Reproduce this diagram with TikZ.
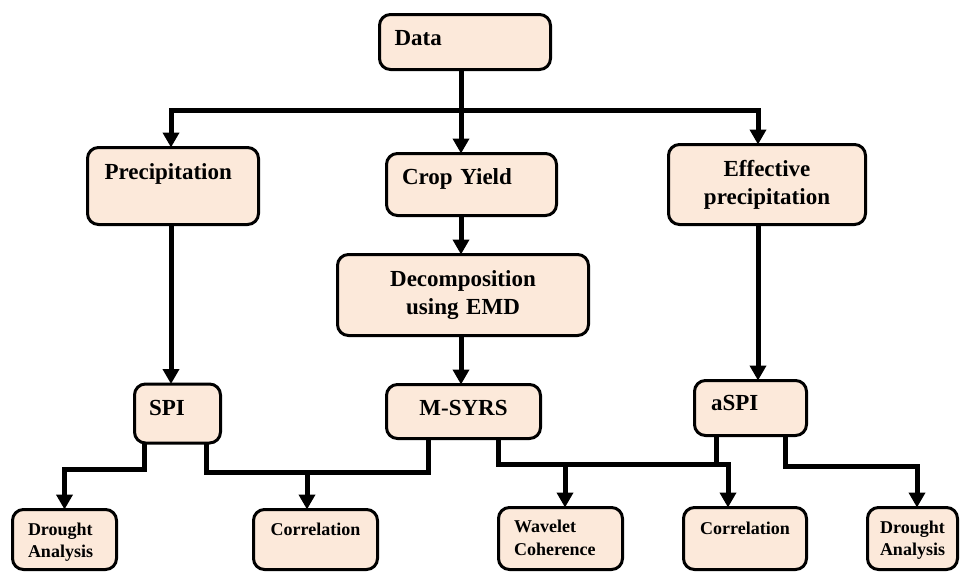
\documentclass[tikz,border=0pt]{standalone}
\usepackage{fontspec}
\setmainfont{Liberation Serif}
\usetikzlibrary{arrows.meta}
\definecolor{boxfill}{RGB}{252,233,218}

\begin{document}
\begin{tikzpicture}[x=1pt,y=-1pt,
    box/.style={draw,line width=3pt,rounded corners=11pt,fill=boxfill,
      anchor=north west,outer sep=0pt,inner ysep=0pt},
    big/.style={box,font=\fontsize{23}{28}\selectfont\bfseries},
    small/.style={box,font=\fontsize{18}{22.5}\selectfont\bfseries},
    link/.style={line width=5pt},
    arr/.style={link,-{Triangle[length=15pt,width=16pt]}}]
  \useasboundingbox (0,0) rectangle (960,573);

  % boxes
  \node[big,text width=141pt,inner xsep=15pt,text height=30.5pt,text depth=24.5pt,align=left]
    (data) at (379.5,14.5) {Data};
  \node[big,text width=137pt,inner xsep=17pt,text height=31.5pt,text depth=45.5pt,align=left]
    (prec) at (87.5,147.5) {Precipitation};
  \node[big,text width=139pt,inner xsep=15.5pt,text height=30.5pt,text depth=31.5pt,align=left]
    (crop) at (386.5,153.5) {Crop Yield};
  \node[big,text width=177pt,inner xsep=10pt,text height=31.5pt,text depth=48.5pt,align=center]
    (eff) at (668.5,144.5) {Effective\\precipitation};
  \node[big,text width=231pt,inner xsep=10pt,text height=31.5pt,text depth=49.5pt,align=center]
    (dec) at (337.5,254.5) {Decomposition\\using EMD};
  \node[big,text width=57pt,inner xsep=14.5pt,text height=31pt,text depth=28pt,align=left]
    (spi) at (134.5,384) {SPI};
  \node[big,text width=134pt,inner xsep=10pt,text height=30.5pt,text depth=23.5pt,align=center]
    (msy) at (386.5,384.5) {M-SYRS};
  \node[big,text width=79pt,inner xsep=16.5pt,text height=30pt,text depth=25pt,align=left]
    (aspi) at (694.5,380.5) {aSPI};
  \node[small,text width=73pt,inner xsep=15.5pt,text height=25.5pt,text depth=34.5pt,align=left]
    (dro1) at (12.5,509.5) {Drought\\Analysis};
  \node[small,text width=104pt,inner xsep=10pt,text height=25.5pt,text depth=34.5pt,align=center]
    (cor1) at (253.5,509.5) {Correlation};
  \node[small,text width=93pt,inner xsep=15.5pt,text height=25pt,text depth=37pt,align=left]
    (wav) at (498.5,507.5) {Wavelet\\Coherence};
  \node[small,text width=103pt,inner xsep=10pt,text height=26.5pt,text depth=35.5pt,align=center]
    (cor2) at (683.5,507.5) {Correlation};
  \node[small,text width=66pt,inner xsep=12pt,text height=25.5pt,text depth=36.5pt,align=center]
    (dro2) at (867.5,507.5) {Drought\\Analysis};

  % bends and drop points
  \coordinate (cx) at (461,110);
  \coordinate (px) at (171,110);
  \coordinate (ex) at (758,110);
  \coordinate (s1) at (144,469);
  \coordinate (s2) at (206,472);
  \coordinate (c1) at (307,472);
  \coordinate (m1) at (428,472);
  \coordinate (m2) at (498,464);
  \coordinate (w1) at (565,464);
  \coordinate (a1) at (716,464);
  \coordinate (k1) at (728,464);
  \coordinate (a2) at (785,466);
  \coordinate (k2) at (917,466);

  % upper part
  \draw[link] (data.south -| cx) -- (cx);
  \draw[arr] (cx) -- (crop.north -| cx);
  \draw[arr] (cx) -| (prec.north -| px);
  \draw[arr] (cx) -| (eff.north -| ex);
  \draw[arr] (crop.south -| cx) -- (dec.north -| cx);
  \draw[arr] (dec.south -| cx) -- (msy.north -| cx);
  \draw[arr] (prec.south -| px) -- (spi.north -| px);
  \draw[arr] (eff.south -| ex) -- (aspi.north -| ex);

  % lower part
  \draw[arr] (spi.south -| s1) -- (s1) -| (dro1.north);
  \draw[link] (spi.south -| s2) |- (m1) -- (msy.south -| m1);
  \draw[arr] (c1) -- (cor1.north -| c1);
  \draw[arr] (msy.south -| m2) |- (k1) -- (cor2.north -| k1);
  \draw[link] (aspi.south -| a1) -- (a1);
  \draw[arr] (w1) -- (wav.north -| w1);
  \draw[arr] (aspi.south -| a2) |- (k2) -- (dro2.north -| k2);
\end{tikzpicture}
\end{document}
